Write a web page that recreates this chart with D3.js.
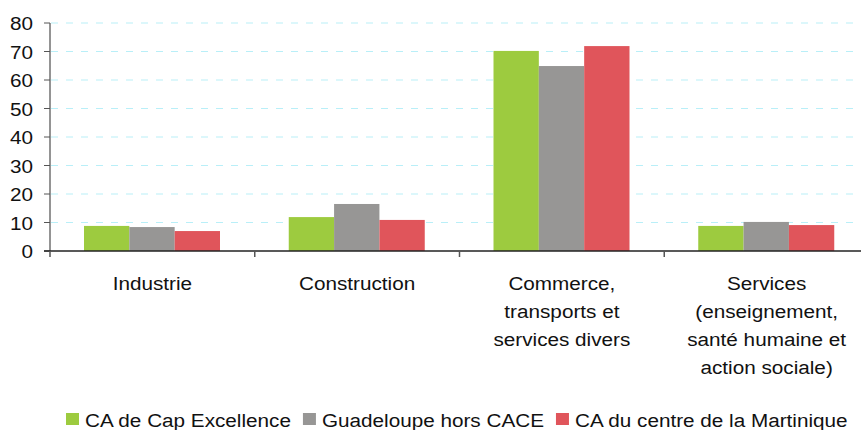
<!DOCTYPE html>
<html>
<head>
<meta charset="utf-8">
<script src="https://cdn.jsdelivr.net/npm/d3@7"></script>
<style>
  body { margin: 0; background: #fff; }
  text { font-family: "Liberation Sans", Arial, sans-serif; fill: #111; }
</style>
</head>
<body>
<svg id="chart" width="861" height="430"></svg>
<script>
// data
var categories = ["Industrie", "Construction", "Commerce, transports et services divers", "Services (enseignement, santé humaine et action sociale)"]
var categoryLines = [
    ["Industrie"],
    ["Construction"],
    ["Commerce,", "transports et", "services divers"],
    ["Services", "(enseignement,", "santé humaine et", "action sociale)"]
]
var seriesNames = ["CA de Cap Excellence", "Guadeloupe hors CACE", "CA du centre de la Martinique"]
var capExcellence = [8.8, 11.9, 70.2, 8.8]
var guadeloupeHors = [8.4, 16.5, 64.9, 10.2]
var centreMartinique = [7.0, 10.9, 71.9, 9.1]
var yTicks = [0, 10, 20, 30, 40, 50, 60, 70, 80]
var colors = ["#9dcb3f", "#979695", "#e0555b"]

var allSeries = [capExcellence, guadeloupeHors, centreMartinique]
var fontSize = 19
var stretch = 1.09

var svg = d3.select("#chart")

var x0 = d3.scaleBand()
    .domain(categories)
    .range([50, 869])
    .padding(0)

var x1 = d3.scaleBand()
    .domain(seriesNames)
    .range([34, 170])
    .padding(0)

var y = d3.scaleLinear()
    .domain([0, 80])
    .range([251, 23])

// gridlines
svg.append("g")
    .selectAll("line")
    .data(yTicks.filter(function (t) { return t > 0 }))
    .enter()
    .append("line")
    .attr("x1", 51)
    .attr("x2", 861)
    .attr("y1", function (t) { return y(t) })
    .attr("y2", function (t) { return y(t) })
    .attr("stroke", "#b9eff8")
    .attr("stroke-width", 1.2)
    .attr("stroke-dasharray", "7,8")

// bars
var rows = categories.map(function (c, i)
{
    return allSeries.map(function (s, j)
    {
        return {cat: c, name: seriesNames[j], value: s[i], color: colors[j]}
    })
})

svg.append("g")
    .selectAll("g")
    .data(rows)
    .enter()
    .append("g")
    .attr("transform", function (d) { return "translate(" + x0(d[0].cat) + ",0)" })
    .selectAll("rect")
    .data(function (d) { return d })
    .enter()
    .append("rect")
    .attr("x", function (d) { return x1(d.name) })
    .attr("width", x1.bandwidth())
    .attr("y", function (d) { return y(d.value) })
    .attr("height", function (d) { return y(0) - y(d.value) })
    .attr("fill", function (d) { return d.color })

// y axis
var yAxis = svg.append("g")
yAxis.append("line")
    .attr("x1", 50).attr("x2", 50)
    .attr("y1", y(80)).attr("y2", y(0))
    .attr("stroke", "#707070").attr("stroke-width", 1.5)
yAxis.selectAll("line.tick")
    .data(yTicks)
    .enter()
    .append("line")
    .attr("class", "tick")
    .attr("x1", 44).attr("x2", 50)
    .attr("y1", function (t) { return y(t) })
    .attr("y2", function (t) { return y(t) })
    .attr("stroke", "#555").attr("stroke-width", 1)
yAxis.selectAll("text")
    .data(yTicks)
    .enter()
    .append("text")
    .attr("transform", function (t) { return "translate(33," + (y(t) + 7) + ") scale(" + stretch + ",1)" })
    .attr("text-anchor", "end")
    .style("font-size", fontSize + "px")
    .text(function (t) { return t })

// x axis
var xAxis = svg.append("g")
xAxis.append("line")
    .attr("x1", 44).attr("x2", 861)
    .attr("y1", y(0)).attr("y2", y(0))
    .attr("stroke", "#222").attr("stroke-width", 1.5)
xAxis.selectAll("line.tick")
    .data(categories.concat(["end"]))
    .enter()
    .append("line")
    .attr("class", "tick")
    .attr("x1", function (d, i) { return 50 + i * x0.bandwidth() })
    .attr("x2", function (d, i) { return 50 + i * x0.bandwidth() })
    .attr("y1", y(0)).attr("y2", y(0) + 6)
    .attr("stroke", "#555").attr("stroke-width", 1.5)

xAxis.selectAll("text")
    .data(categories)
    .enter()
    .append("text")
    .attr("transform", function (d) { return "translate(" + (x0(d) + x0.bandwidth() / 2) + ",290) scale(" + stretch + ",1)" })
    .attr("text-anchor", "middle")
    .style("font-size", fontSize + "px")
    .each(function (d, i)
    {
        var t = d3.select(this)
        categoryLines[i].forEach(function (line, k)
        {
            t.append("tspan")
                .attr("x", 0)
                .attr("y", k * 28)
                .text(line)
        })
    })

// legend
var legend = svg.append("g")
var lx = 66
seriesNames.forEach(function (name, i)
{
    legend.append("rect")
        .attr("x", lx).attr("y", 413)
        .attr("width", 13).attr("height", 12)
        .attr("fill", colors[i])
    var t = legend.append("text")
        .attr("transform", "translate(" + (lx + 19) + ",427) scale(" + stretch + ",1)")
        .style("font-size", fontSize + "px")
        .text(name)
    var w = t.node().getComputedTextLength() * stretch
    lx = lx + 19 + w + 12
})
</script>
</body>
</html>
